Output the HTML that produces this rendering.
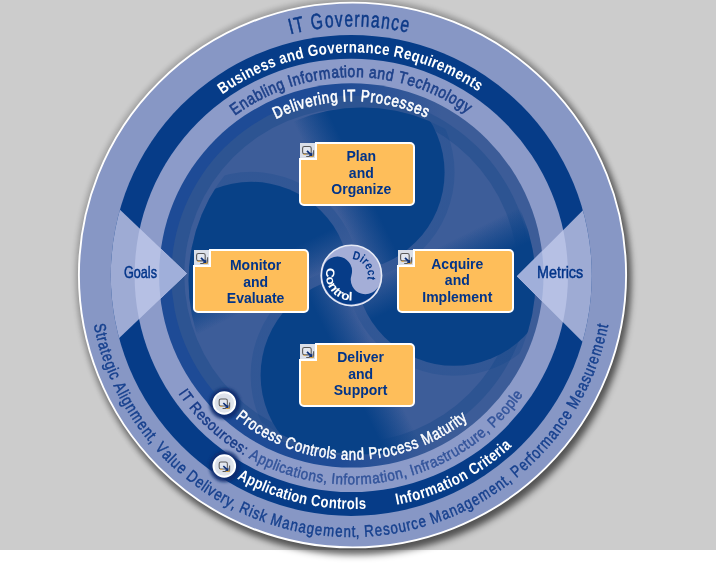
<!DOCTYPE html>
<html><head><meta charset="utf-8"><title>IT Governance</title>
<style>html,body{margin:0;padding:0;background:#fff}svg{display:block}text{font-family:"Liberation Sans",sans-serif}</style></head>
<body>
<svg width="716" height="569" viewBox="0 0 716 569" style="opacity:0.999">
<defs>
<filter id="sh" x="-10%" y="-10%" width="120%" height="120%"><feGaussianBlur stdDeviation="3.6"/></filter>
<filter id="sh3" x="-10%" y="-10%" width="120%" height="120%"><feGaussianBlur stdDeviation="2.5"/></filter>
<filter id="sh2" x="-50%" y="-50%" width="200%" height="200%"><feGaussianBlur stdDeviation="1.4"/></filter>
<clipPath id="cR3"><circle cx="351.3" cy="275.4" r="192.2"/></clipPath>
<clipPath id="cR1"><circle cx="351.3" cy="275.4" r="240.5"/></clipPath>
<clipPath id="cB"><circle cx="362.0" cy="281.0" r="173.5"/></clipPath>
<clipPath id="cAnn"><path clip-rule="evenodd" d="M159.10000000000002 275.4A192.2 192.2 0 1 1 543.5 275.4A192.2 192.2 0 1 1 159.10000000000002 275.4ZM187.8 275.4A163.5 163.5 0 1 0 514.8 275.4A163.5 163.5 0 1 0 187.8 275.4Z"/></clipPath>
<clipPath id="triL"><polygon points="186.8,273.5 76.80000000000001,168.45 76.80000000000001,378.55"/></clipPath>
<clipPath id="triR"><polygon points="517.0,276.3 627.0,166.3 627.0,386.3"/></clipPath>
<g id="ico">
<rect x="0" y="0" width="15" height="15" fill="#dadfe9"/>
<path d="M6.2 13.5H12.4Q13.6 13.5 13.6 12.3V7.2" fill="none" stroke="#5a5a5a" stroke-width="1.1"/>
<rect x="2.6" y="3.5" width="8.6" height="7.4" rx="1.8" fill="#e3e7ef" stroke="#5a5a5a" stroke-width="1.1"/>
<path d="M7 7.8l3.6 3.6" stroke="#0b2f7a" stroke-width="1.7"/>
<path d="M12.7 13.3l-4-.5 3.5-3.5z" fill="#0b2f7a"/>
<path d="M9.6 13.6h3.4v-2" fill="none" stroke="#e8a93a" stroke-width="0.9"/>
<path d="M3.4 11.4h2.6" stroke="#e8a93a" stroke-width="0.8"/>
</g>
<linearGradient id="bg" gradientUnits="userSpaceOnUse" x1="322.86" y1="182.47" x2="355.14" y2="166.53"><stop offset="0" stop-color="#084187" stop-opacity="0"/><stop offset="1" stop-color="#084187" stop-opacity="1"/></linearGradient>
<linearGradient id="bg2" gradientUnits="userSpaceOnUse" x1="322.86" y1="182.47" x2="355.14" y2="166.53"><stop offset="0" stop-color="#1e4b96" stop-opacity="0"/><stop offset="1" stop-color="#1e4b96" stop-opacity="1"/></linearGradient>
<linearGradient id="rg" gradientUnits="userSpaceOnUse" x1="201.3" y1="0" x2="501.3" y2="0"><stop offset="0" stop-color="#1e4b96"/><stop offset="0.45" stop-color="#1e4b96"/><stop offset="0.8" stop-color="#3c5c98"/></linearGradient>
</defs>
<rect x="0" y="0" width="716" height="550" fill="#cccccc"/>
<circle cx="353.0" cy="275.5" r="278.1" fill="#000" opacity="0.18" filter="url(#sh3)"/>
<circle cx="356.5" cy="280.5" r="274.6" fill="#000" opacity="0.5" filter="url(#sh)"/>
<ellipse cx="352.5" cy="275.0" rx="273.6" ry="272.40000000000003" fill="#8797c5" stroke="#fff" stroke-width="1.9"/>
<circle cx="351.3" cy="275.4" r="240.5" fill="#063c88"/>
<circle cx="351.3" cy="275.4" r="216.7" fill="#8c9bc9"/>
<circle cx="351.3" cy="275.4" r="192.2" fill="url(#rg)"/>
<circle cx="351.3" cy="275.4" r="180.0" fill="#2d5492"/>
<circle cx="351.3" cy="275.4" r="167.0" fill="#3d5d99"/>
<g clip-path="url(#cR3)"><g clip-path="url(#cB)">
<circle cx="346.0" cy="172.4" r="108.6" fill="url(#bg)" opacity="0.22" transform="rotate(0 352.6 273.8)"/>
<circle cx="346.0" cy="172.4" r="108.6" fill="url(#bg)" opacity="0.22" transform="rotate(-90 352.6 273.8)"/>
<circle cx="346.0" cy="172.4" r="108.6" fill="url(#bg)" opacity="0.22" transform="rotate(180 352.6 273.8)"/>
<circle cx="346.0" cy="172.4" r="108.6" fill="url(#bg)" opacity="0.22" transform="rotate(90 352.6 273.8)"/>
<circle cx="346.0" cy="172.4" r="98.6" fill="url(#bg)" transform="rotate(0 352.6 273.8)"/>
<circle cx="346.0" cy="172.4" r="98.6" fill="url(#bg)" transform="rotate(-90 352.6 273.8)"/>
<circle cx="346.0" cy="172.4" r="98.6" fill="url(#bg)" transform="rotate(180 352.6 273.8)"/>
<circle cx="346.0" cy="172.4" r="98.6" fill="url(#bg)" transform="rotate(90 352.6 273.8)"/>
</g></g>
<g clip-path="url(#triL)"><circle cx="351.3" cy="275.4" r="240.5" fill="#9eabd4"/><circle cx="351.3" cy="275.4" r="216.7" fill="#b6c0e4"/><circle cx="351.3" cy="275.4" r="192.2" fill="#a0afda"/></g>
<g clip-path="url(#triR)"><circle cx="351.3" cy="275.4" r="240.5" fill="#9eabd4"/><circle cx="351.3" cy="275.4" r="216.7" fill="#b6c0e4"/><circle cx="351.3" cy="275.4" r="192.2" fill="#a0afda"/></g>
<g font-size="22" font-weight="normal" fill="#0d3a88" text-anchor="middle" stroke="#0d3a88" stroke-width="0.55"><text transform="translate(292.68 33.70) rotate(-13.92) scale(0.705 1)">I</text><text transform="translate(300.49 31.90) rotate(-12.08) scale(0.705 1)">T</text><text transform="translate(317.76 28.84) rotate(-8.03) scale(0.705 1)">G</text><text transform="translate(329.71 27.45) rotate(-5.26) scale(0.705 1)">o</text><text transform="translate(339.21 26.76) rotate(-3.06) scale(0.705 1)">v</text><text transform="translate(348.73 26.43) rotate(-0.87) scale(0.705 1)">e</text><text transform="translate(356.75 26.44) rotate(0.98) scale(0.705 1)">r</text><text transform="translate(364.77 26.70) rotate(2.83) scale(0.705 1)">n</text><text transform="translate(374.77 27.40) rotate(5.14) scale(0.705 1)">a</text><text transform="translate(384.75 28.50) rotate(7.45) scale(0.705 1)">n</text><text transform="translate(394.17 29.92) rotate(9.65) scale(0.705 1)">c</text><text transform="translate(403.52 31.69) rotate(11.84) scale(0.705 1)">e</text></g>
<g font-size="16" font-weight="bold" fill="#fff" text-anchor="middle" ><text transform="translate(226.16 91.85) rotate(-34.60) scale(0.832 1)">B</text><text transform="translate(233.96 86.70) rotate(-32.19) scale(0.832 1)">u</text><text transform="translate(240.96 82.48) rotate(-30.09) scale(0.832 1)">s</text><text transform="translate(246.06 79.61) rotate(-28.58) scale(0.832 1)">i</text><text transform="translate(251.57 76.71) rotate(-26.98) scale(0.832 1)">n</text><text transform="translate(258.92 73.14) rotate(-24.87) scale(0.832 1)">e</text><text transform="translate(266.05 69.98) rotate(-22.86) scale(0.832 1)">s</text><text transform="translate(273.28 67.08) rotate(-20.86) scale(0.832 1)">s</text><text transform="translate(284.31 63.21) rotate(-17.85) scale(0.832 1)">a</text><text transform="translate(292.14 60.84) rotate(-15.74) scale(0.832 1)">n</text><text transform="translate(300.42 58.68) rotate(-13.54) scale(0.832 1)">d</text><text transform="translate(313.76 55.90) rotate(-10.03) scale(0.832 1)">G</text><text transform="translate(323.37 54.41) rotate(-7.52) scale(0.832 1)">o</text><text transform="translate(331.50 53.49) rotate(-5.42) scale(0.832 1)">v</text><text transform="translate(339.27 52.89) rotate(-3.41) scale(0.832 1)">e</text><text transform="translate(345.89 52.60) rotate(-1.70) scale(0.832 1)">r</text><text transform="translate(352.90 52.50) rotate(0.10) scale(0.832 1)">n</text><text transform="translate(361.07 52.67) rotate(2.21) scale(0.832 1)">a</text><text transform="translate(369.24 53.13) rotate(4.31) scale(0.832 1)">n</text><text transform="translate(377.38 53.90) rotate(6.42) scale(0.832 1)">c</text><text transform="translate(385.11 54.90) rotate(8.43) scale(0.832 1)">e</text><text transform="translate(397.76 57.15) rotate(11.74) scale(0.832 1)">R</text><text transform="translate(406.49 59.15) rotate(14.04) scale(0.832 1)">e</text><text transform="translate(414.38 61.28) rotate(16.15) scale(0.832 1)">q</text><text transform="translate(422.56 63.82) rotate(18.35) scale(0.832 1)">u</text><text transform="translate(428.44 65.86) rotate(19.96) scale(0.832 1)">i</text><text transform="translate(432.82 67.50) rotate(21.16) scale(0.832 1)">r</text><text transform="translate(438.96 69.99) rotate(22.87) scale(0.832 1)">e</text><text transform="translate(448.20 74.13) rotate(25.47) scale(0.832 1)">m</text><text transform="translate(457.24 78.69) rotate(28.08) scale(0.832 1)">e</text><text transform="translate(464.38 82.68) rotate(30.19) scale(0.832 1)">n</text><text transform="translate(470.05 86.09) rotate(31.89) scale(0.832 1)">t</text><text transform="translate(475.29 89.45) rotate(33.50) scale(0.832 1)">s</text></g>
<g font-size="16.5" font-weight="normal" fill="#1e418a" text-anchor="middle" stroke="#1e418a" stroke-width="0.65"><text transform="translate(238.51 113.10) rotate(-35.15) scale(0.839 1)">E</text><text transform="translate(246.15 107.98) rotate(-32.49) scale(0.839 1)">n</text><text transform="translate(253.30 103.64) rotate(-30.07) scale(0.839 1)">a</text><text transform="translate(260.63 99.61) rotate(-27.65) scale(0.839 1)">b</text><text transform="translate(265.85 96.97) rotate(-25.95) scale(0.839 1)">l</text><text transform="translate(268.87 95.53) rotate(-24.99) scale(0.839 1)">i</text><text transform="translate(274.21 93.14) rotate(-23.29) scale(0.839 1)">n</text><text transform="translate(281.96 89.99) rotate(-20.87) scale(0.839 1)">g</text><text transform="translate(291.82 86.53) rotate(-17.85) scale(0.839 1)">I</text><text transform="translate(297.82 84.70) rotate(-16.03) scale(0.839 1)">n</text><text transform="translate(303.87 83.06) rotate(-14.22) scale(0.839 1)">f</text><text transform="translate(309.97 81.62) rotate(-12.40) scale(0.839 1)">o</text><text transform="translate(316.53 80.30) rotate(-10.47) scale(0.839 1)">r</text><text transform="translate(325.18 78.89) rotate(-7.93) scale(0.839 1)">m</text><text transform="translate(335.56 77.73) rotate(-4.91) scale(0.839 1)">a</text><text transform="translate(341.82 77.29) rotate(-3.09) scale(0.839 1)">t</text><text transform="translate(345.57 77.12) rotate(-2.00) scale(0.839 1)">i</text><text transform="translate(351.43 77.00) rotate(-0.31) scale(0.839 1)">o</text><text transform="translate(359.79 77.13) rotate(2.11) scale(0.839 1)">n</text><text transform="translate(372.30 77.99) rotate(5.74) scale(0.839 1)">a</text><text transform="translate(380.60 79.00) rotate(8.16) scale(0.839 1)">n</text><text transform="translate(388.86 80.37) rotate(10.58) scale(0.839 1)">d</text><text transform="translate(401.50 83.16) rotate(14.33) scale(0.839 1)">T</text><text transform="translate(409.95 85.52) rotate(16.87) scale(0.839 1)">e</text><text transform="translate(417.51 87.98) rotate(19.17) scale(0.839 1)">c</text><text transform="translate(424.95 90.73) rotate(21.46) scale(0.839 1)">h</text><text transform="translate(432.67 93.96) rotate(23.89) scale(0.839 1)">n</text><text transform="translate(440.25 97.50) rotate(26.31) scale(0.839 1)">o</text><text transform="translate(445.45 100.18) rotate(28.00) scale(0.839 1)">l</text><text transform="translate(450.58 103.00) rotate(29.69) scale(0.839 1)">o</text><text transform="translate(457.76 107.30) rotate(32.11) scale(0.839 1)">g</text><text transform="translate(464.40 111.65) rotate(34.41) scale(0.839 1)">y</text></g>
<g font-size="16.5" font-weight="normal" fill="#fff" text-anchor="middle" stroke="#fff" stroke-width="0.6"><text transform="translate(280.06 117.02) rotate(-24.63) scale(0.810 1)">D</text><text transform="translate(288.79 113.30) rotate(-21.50) scale(0.810 1)">e</text><text transform="translate(294.21 111.27) rotate(-19.60) scale(0.810 1)">l</text><text transform="translate(297.33 110.19) rotate(-18.51) scale(0.810 1)">i</text><text transform="translate(302.44 108.57) rotate(-16.74) scale(0.810 1)">v</text><text transform="translate(310.00 106.48) rotate(-14.16) scale(0.810 1)">e</text><text transform="translate(316.43 104.98) rotate(-11.98) scale(0.810 1)">r</text><text transform="translate(320.47 104.18) rotate(-10.62) scale(0.810 1)">i</text><text transform="translate(326.17 103.21) rotate(-8.71) scale(0.810 1)">n</text><text transform="translate(334.36 102.15) rotate(-5.99) scale(0.810 1)">g</text><text transform="translate(344.65 101.38) rotate(-2.59) scale(0.810 1)">I</text><text transform="translate(351.25 101.20) rotate(-0.41) scale(0.810 1)">T</text><text transform="translate(364.85 101.64) rotate(4.07) scale(0.810 1)">P</text><text transform="translate(372.24 102.33) rotate(6.52) scale(0.810 1)">r</text><text transform="translate(378.79 103.20) rotate(8.70) scale(0.810 1)">o</text><text transform="translate(386.51 104.56) rotate(11.29) scale(0.810 1)">c</text><text transform="translate(394.17 106.27) rotate(13.87) scale(0.810 1)">e</text><text transform="translate(401.74 108.32) rotate(16.46) scale(0.810 1)">s</text><text transform="translate(408.81 110.58) rotate(18.90) scale(0.810 1)">s</text><text transform="translate(416.17 113.28) rotate(21.49) scale(0.810 1)">e</text><text transform="translate(423.40 116.32) rotate(24.08) scale(0.810 1)">s</text></g>
<g font-size="16.5" font-weight="normal" fill="#16408e" text-anchor="middle" stroke="#16408e" stroke-width="0.45"><text transform="translate(94.63 329.03) rotate(78.10) scale(0.805 1)">S</text><text transform="translate(96.20 335.99) rotate(76.54) scale(0.805 1)">t</text><text transform="translate(97.31 340.47) rotate(75.53) scale(0.805 1)">r</text><text transform="translate(99.07 346.94) rotate(74.06) scale(0.805 1)">a</text><text transform="translate(100.87 352.98) rotate(72.69) scale(0.805 1)">t</text><text transform="translate(102.82 358.96) rotate(71.31) scale(0.805 1)">e</text><text transform="translate(105.64 366.87) rotate(69.47) scale(0.805 1)">g</text><text transform="translate(107.76 372.35) rotate(68.19) scale(0.805 1)">i</text><text transform="translate(109.84 377.39) rotate(66.99) scale(0.805 1)">c</text><text transform="translate(115.21 389.23) rotate(64.15) scale(0.805 1)">A</text><text transform="translate(118.22 395.24) rotate(62.68) scale(0.805 1)">l</text><text transform="translate(119.78 398.21) rotate(61.95) scale(0.805 1)">i</text><text transform="translate(122.60 403.36) rotate(60.66) scale(0.805 1)">g</text><text transform="translate(126.83 410.61) rotate(58.83) scale(0.805 1)">n</text><text transform="translate(132.44 419.48) rotate(56.53) scale(0.805 1)">m</text><text transform="translate(138.39 428.11) rotate(54.24) scale(0.805 1)">e</text><text transform="translate(143.41 434.84) rotate(52.40) scale(0.805 1)">n</text><text transform="translate(147.31 439.78) rotate(51.03) scale(0.805 1)">t</text><text transform="translate(149.97 443.02) rotate(50.11) scale(0.805 1)">,</text><text transform="translate(157.42 451.56) rotate(47.63) scale(0.805 1)">V</text><text transform="translate(163.77 458.27) rotate(45.61) scale(0.805 1)">a</text><text transform="translate(167.92 462.42) rotate(44.33) scale(0.805 1)">l</text><text transform="translate(172.17 466.48) rotate(43.04) scale(0.805 1)">u</text><text transform="translate(178.40 472.11) rotate(41.21) scale(0.805 1)">e</text><text transform="translate(189.05 480.95) rotate(38.18) scale(0.805 1)">D</text><text transform="translate(196.75 486.78) rotate(36.07) scale(0.805 1)">e</text><text transform="translate(201.53 490.18) rotate(34.78) scale(0.805 1)">l</text><text transform="translate(204.30 492.08) rotate(34.05) scale(0.805 1)">i</text><text transform="translate(208.85 495.09) rotate(32.86) scale(0.805 1)">v</text><text transform="translate(215.61 499.31) rotate(31.11) scale(0.805 1)">e</text><text transform="translate(221.40 502.70) rotate(29.65) scale(0.805 1)">r</text><text transform="translate(226.91 505.75) rotate(28.27) scale(0.805 1)">y</text><text transform="translate(232.11 508.47) rotate(26.99) scale(0.805 1)">,</text><text transform="translate(242.69 513.56) rotate(24.42) scale(0.805 1)">R</text><text transform="translate(249.22 516.42) rotate(22.86) scale(0.805 1)">i</text><text transform="translate(254.27 518.49) rotate(21.67) scale(0.805 1)">s</text><text transform="translate(261.32 521.17) rotate(20.02) scale(0.805 1)">k</text><text transform="translate(274.85 525.69) rotate(16.90) scale(0.805 1)">M</text><text transform="translate(284.94 528.53) rotate(14.60) scale(0.805 1)">a</text><text transform="translate(293.10 530.52) rotate(12.77) scale(0.805 1)">n</text><text transform="translate(301.32 532.25) rotate(10.93) scale(0.805 1)">a</text><text transform="translate(309.58 533.71) rotate(9.10) scale(0.805 1)">g</text><text transform="translate(317.90 534.90) rotate(7.26) scale(0.805 1)">e</text><text transform="translate(328.32 536.02) rotate(4.97) scale(0.805 1)">m</text><text transform="translate(338.79 536.72) rotate(2.67) scale(0.805 1)">e</text><text transform="translate(347.18 536.97) rotate(0.84) scale(0.805 1)">n</text><text transform="translate(353.48 536.99) rotate(-0.54) scale(0.805 1)">t</text><text transform="translate(357.67 536.92) rotate(-1.46) scale(0.805 1)">,</text><text transform="translate(369.40 536.35) rotate(-4.03) scale(0.805 1)">R</text><text transform="translate(379.01 535.50) rotate(-6.14) scale(0.805 1)">e</text><text transform="translate(386.93 534.53) rotate(-7.88) scale(0.805 1)">s</text><text transform="translate(394.81 533.31) rotate(-9.63) scale(0.805 1)">o</text><text transform="translate(403.06 531.78) rotate(-11.46) scale(0.805 1)">u</text><text transform="translate(409.62 530.36) rotate(-12.93) scale(0.805 1)">r</text><text transform="translate(415.74 528.88) rotate(-14.30) scale(0.805 1)">c</text><text transform="translate(423.43 526.79) rotate(-16.05) scale(0.805 1)">e</text><text transform="translate(437.42 522.34) rotate(-19.26) scale(0.805 1)">M</text><text transform="translate(447.25 518.68) rotate(-21.55) scale(0.805 1)">a</text><text transform="translate(455.01 515.47) rotate(-23.39) scale(0.805 1)">n</text><text transform="translate(462.66 512.01) rotate(-25.23) scale(0.805 1)">a</text><text transform="translate(470.20 508.31) rotate(-27.06) scale(0.805 1)">g</text><text transform="translate(477.61 504.37) rotate(-28.90) scale(0.805 1)">e</text><text transform="translate(486.69 499.12) rotate(-31.19) scale(0.805 1)">m</text><text transform="translate(495.55 493.51) rotate(-33.49) scale(0.805 1)">e</text><text transform="translate(502.48 488.77) rotate(-35.32) scale(0.805 1)">n</text><text transform="translate(507.57 485.07) rotate(-36.70) scale(0.805 1)">t</text><text transform="translate(510.92 482.53) rotate(-37.62) scale(0.805 1)">,</text><text transform="translate(519.74 475.43) rotate(-40.09) scale(0.805 1)">P</text><text transform="translate(526.70 469.36) rotate(-42.11) scale(0.805 1)">e</text><text transform="translate(531.62 464.79) rotate(-43.58) scale(0.805 1)">r</text><text transform="translate(534.93 461.58) rotate(-44.59) scale(0.805 1)">f</text><text transform="translate(539.36 457.11) rotate(-45.97) scale(0.805 1)">o</text><text transform="translate(543.96 452.23) rotate(-47.43) scale(0.805 1)">r</text><text transform="translate(549.81 445.64) rotate(-49.36) scale(0.805 1)">m</text><text transform="translate(556.48 437.55) rotate(-51.65) scale(0.805 1)">a</text><text transform="translate(561.58 430.88) rotate(-53.49) scale(0.805 1)">n</text><text transform="translate(566.23 424.40) rotate(-55.23) scale(0.805 1)">c</text><text transform="translate(570.67 417.78) rotate(-56.98) scale(0.805 1)">e</text><text transform="translate(578.33 405.26) rotate(-60.19) scale(0.805 1)">M</text><text transform="translate(583.36 396.05) rotate(-62.48) scale(0.805 1)">e</text><text transform="translate(587.12 388.55) rotate(-64.32) scale(0.805 1)">a</text><text transform="translate(590.46 381.31) rotate(-66.06) scale(0.805 1)">s</text><text transform="translate(593.59 373.97) rotate(-67.80) scale(0.805 1)">u</text><text transform="translate(596.04 367.73) rotate(-69.27) scale(0.805 1)">r</text><text transform="translate(598.34 361.42) rotate(-70.74) scale(0.805 1)">e</text><text transform="translate(601.60 351.45) rotate(-73.03) scale(0.805 1)">m</text><text transform="translate(604.46 341.36) rotate(-75.33) scale(0.805 1)">e</text><text transform="translate(606.45 333.20) rotate(-77.16) scale(0.805 1)">n</text><text transform="translate(607.78 327.05) rotate(-78.54) scale(0.805 1)">t</text></g>
<g font-size="15.2" font-weight="normal" fill="#33549b" text-anchor="middle" stroke="#33549b" stroke-width="0.45"><text fill="#173b88" stroke="#173b88" transform="translate(179.30 395.04) rotate(55.04) scale(0.890 1)">I</text><text fill="#173b88" stroke="#173b88" transform="translate(183.13 400.34) rotate(53.25) scale(0.890 1)">T</text><text fill="#173b88" stroke="#173b88" transform="translate(191.80 411.18) rotate(49.46) scale(0.890 1)">R</text><text fill="#173b88" stroke="#173b88" transform="translate(198.07 418.19) rotate(46.88) scale(0.890 1)">e</text><text fill="#173b88" stroke="#173b88" transform="translate(203.48 423.76) rotate(44.76) scale(0.890 1)">s</text><text fill="#173b88" stroke="#173b88" transform="translate(209.10 429.12) rotate(42.64) scale(0.890 1)">o</text><text fill="#173b88" stroke="#173b88" transform="translate(215.22 434.55) rotate(40.40) scale(0.890 1)">u</text><text fill="#173b88" stroke="#173b88" transform="translate(220.27 438.71) rotate(38.61) scale(0.890 1)">r</text><text fill="#173b88" stroke="#173b88" transform="translate(225.11 442.46) rotate(36.93) scale(0.890 1)">c</text><text fill="#173b88" stroke="#173b88" transform="translate(231.41 447.01) rotate(34.81) scale(0.890 1)">e</text><text fill="#173b88" stroke="#173b88" transform="translate(237.86 451.33) rotate(32.69) scale(0.890 1)">s</text><text fill="#173b88" stroke="#173b88" transform="translate(242.72 454.35) rotate(31.12) scale(0.890 1)">:</text><text transform="translate(252.31 459.80) rotate(28.10) scale(0.890 1)">A</text><text transform="translate(260.34 463.87) rotate(25.64) scale(0.890 1)">p</text><text transform="translate(267.78 467.26) rotate(23.41) scale(0.890 1)">p</text><text transform="translate(273.06 469.46) rotate(21.84) scale(0.890 1)">l</text><text transform="translate(276.11 470.66) rotate(20.95) scale(0.890 1)">i</text><text transform="translate(281.09 472.49) rotate(19.49) scale(0.890 1)">c</text><text transform="translate(288.46 474.95) rotate(17.37) scale(0.890 1)">a</text><text transform="translate(294.34 476.69) rotate(15.69) scale(0.890 1)">t</text><text transform="translate(297.89 477.66) rotate(14.69) scale(0.890 1)">i</text><text transform="translate(303.44 479.03) rotate(13.12) scale(0.890 1)">o</text><text transform="translate(311.44 480.73) rotate(10.88) scale(0.890 1)">n</text><text transform="translate(319.10 482.06) rotate(8.76) scale(0.890 1)">s</text><text transform="translate(324.76 482.85) rotate(7.19) scale(0.890 1)">,</text><text transform="translate(332.89 483.72) rotate(4.96) scale(0.890 1)">I</text><text transform="translate(339.01 484.16) rotate(3.28) scale(0.890 1)">n</text><text transform="translate(345.13 484.42) rotate(1.60) scale(0.890 1)">f</text><text transform="translate(351.27 484.50) rotate(-0.07) scale(0.890 1)">o</text><text transform="translate(357.80 484.39) rotate(-1.86) scale(0.890 1)">r</text><text transform="translate(366.37 483.94) rotate(-4.21) scale(0.890 1)">m</text><text transform="translate(376.53 482.94) rotate(-7.00) scale(0.890 1)">a</text><text transform="translate(382.61 482.10) rotate(-8.68) scale(0.890 1)">t</text><text transform="translate(386.24 481.51) rotate(-9.68) scale(0.890 1)">i</text><text transform="translate(391.87 480.47) rotate(-11.25) scale(0.890 1)">o</text><text transform="translate(399.86 478.72) rotate(-13.49) scale(0.890 1)">n</text><text transform="translate(405.80 477.21) rotate(-15.16) scale(0.890 1)">,</text><text transform="translate(413.65 474.91) rotate(-17.40) scale(0.890 1)">I</text><text transform="translate(419.47 472.99) rotate(-19.08) scale(0.890 1)">n</text><text transform="translate(425.24 470.91) rotate(-20.75) scale(0.890 1)">f</text><text transform="translate(429.42 469.27) rotate(-21.98) scale(0.890 1)">r</text><text transform="translate(435.45 466.73) rotate(-23.77) scale(0.890 1)">a</text><text transform="translate(442.49 463.46) rotate(-25.90) scale(0.890 1)">s</text><text transform="translate(447.61 460.90) rotate(-27.46) scale(0.890 1)">t</text><text transform="translate(451.57 458.78) rotate(-28.69) scale(0.890 1)">r</text><text transform="translate(457.26 455.55) rotate(-30.48) scale(0.890 1)">u</text><text transform="translate(463.88 451.49) rotate(-32.60) scale(0.890 1)">c</text><text transform="translate(468.65 448.34) rotate(-34.17) scale(0.890 1)">t</text><text transform="translate(473.68 444.83) rotate(-35.84) scale(0.890 1)">u</text><text transform="translate(478.92 440.91) rotate(-37.63) scale(0.890 1)">r</text><text transform="translate(484.03 436.84) rotate(-39.42) scale(0.890 1)">e</text><text transform="translate(488.71 432.88) rotate(-41.10) scale(0.890 1)">,</text><text transform="translate(496.83 425.41) rotate(-44.12) scale(0.890 1)">P</text><text transform="translate(503.16 419.01) rotate(-46.58) scale(0.890 1)">e</text><text transform="translate(508.66 412.96) rotate(-48.81) scale(0.890 1)">o</text><text transform="translate(513.93 406.70) rotate(-51.05) scale(0.890 1)">p</text><text transform="translate(517.47 402.20) rotate(-52.62) scale(0.890 1)">l</text><text transform="translate(520.88 397.60) rotate(-54.18) scale(0.890 1)">e</text></g>
<g font-size="16.5" font-weight="normal" fill="#fff" text-anchor="middle" stroke="#fff" stroke-width="0.5"><text transform="translate(238.75 420.64) rotate(37.99) scale(0.796 1)">P</text><text transform="translate(244.59 425.02) rotate(35.73) scale(0.796 1)">r</text><text transform="translate(249.92 428.71) rotate(33.72) scale(0.796 1)">o</text><text transform="translate(256.42 432.86) rotate(31.33) scale(0.796 1)">c</text><text transform="translate(263.08 436.73) rotate(28.94) scale(0.796 1)">e</text><text transform="translate(269.90 440.31) rotate(26.55) scale(0.796 1)">s</text><text transform="translate(276.49 443.44) rotate(24.29) scale(0.796 1)">s</text><text transform="translate(288.49 448.36) rotate(20.27) scale(0.796 1)">C</text><text transform="translate(297.32 451.37) rotate(17.37) scale(0.796 1)">o</text><text transform="translate(305.11 453.62) rotate(14.86) scale(0.796 1)">n</text><text transform="translate(311.02 455.08) rotate(12.97) scale(0.796 1)">t</text><text transform="translate(315.37 456.03) rotate(11.59) scale(0.796 1)">r</text><text transform="translate(321.75 457.22) rotate(9.58) scale(0.796 1)">o</text><text transform="translate(327.37 458.08) rotate(7.82) scale(0.796 1)">l</text><text transform="translate(332.59 458.72) rotate(6.18) scale(0.796 1)">s</text><text transform="translate(344.32 459.62) rotate(2.54) scale(0.796 1)">a</text><text transform="translate(352.43 459.80) rotate(0.02) scale(0.796 1)">n</text><text transform="translate(360.55 459.62) rotate(-2.50) scale(0.796 1)">d</text><text transform="translate(373.48 458.61) rotate(-6.52) scale(0.796 1)">P</text><text transform="translate(380.71 457.63) rotate(-8.78) scale(0.796 1)">r</text><text transform="translate(387.11 456.53) rotate(-10.79) scale(0.796 1)">o</text><text transform="translate(394.64 454.93) rotate(-13.18) scale(0.796 1)">c</text><text transform="translate(402.11 453.02) rotate(-15.57) scale(0.796 1)">e</text><text transform="translate(409.49 450.79) rotate(-17.96) scale(0.796 1)">s</text><text transform="translate(416.38 448.41) rotate(-20.22) scale(0.796 1)">s</text><text transform="translate(429.12 443.17) rotate(-24.50) scale(0.796 1)">M</text><text transform="translate(438.22 438.71) rotate(-27.64) scale(0.796 1)">a</text><text transform="translate(443.57 435.80) rotate(-29.52) scale(0.796 1)">t</text><text transform="translate(448.81 432.72) rotate(-31.41) scale(0.796 1)">u</text><text transform="translate(454.29 429.24) rotate(-33.42) scale(0.796 1)">r</text><text transform="translate(457.65 426.97) rotate(-34.68) scale(0.796 1)">i</text><text transform="translate(460.62 424.87) rotate(-35.81) scale(0.796 1)">t</text><text transform="translate(465.18 421.48) rotate(-37.57) scale(0.796 1)">y</text></g>
<g font-size="16" font-weight="bold" fill="#fff" text-anchor="middle" ><text transform="translate(240.90 480.67) rotate(28.48) scale(0.816 1)">A</text><text transform="translate(249.04 484.88) rotate(26.24) scale(0.816 1)">p</text><text transform="translate(256.64 488.46) rotate(24.18) scale(0.816 1)">p</text><text transform="translate(262.24 490.89) rotate(22.69) scale(0.816 1)">l</text><text transform="translate(265.78 492.34) rotate(21.75) scale(0.816 1)">i</text><text transform="translate(271.13 494.39) rotate(20.35) scale(0.816 1)">c</text><text transform="translate(278.34 496.94) rotate(18.48) scale(0.816 1)">a</text><text transform="translate(284.16 498.80) rotate(16.98) scale(0.816 1)">t</text><text transform="translate(288.18 499.99) rotate(15.95) scale(0.816 1)">i</text><text transform="translate(294.08 501.59) rotate(14.46) scale(0.816 1)">o</text><text transform="translate(302.25 503.54) rotate(12.40) scale(0.816 1)">n</text><text transform="translate(315.00 505.98) rotate(9.22) scale(0.816 1)">C</text><text transform="translate(324.07 507.27) rotate(6.98) scale(0.816 1)">o</text><text transform="translate(332.42 508.14) rotate(4.92) scale(0.816 1)">n</text><text transform="translate(338.89 508.60) rotate(3.33) scale(0.816 1)">t</text><text transform="translate(343.85 508.84) rotate(2.12) scale(0.816 1)">r</text><text transform="translate(350.72 508.99) rotate(0.44) scale(0.816 1)">o</text><text transform="translate(356.83 508.96) rotate(-1.06) scale(0.816 1)">l</text><text transform="translate(362.56 508.78) rotate(-2.46) scale(0.816 1)">s</text></g>
<g font-size="16" font-weight="bold" fill="#fff" text-anchor="middle" ><text transform="translate(398.28 504.48) rotate(-11.28) scale(0.842 1)">I</text><text transform="translate(404.44 503.16) rotate(-12.82) scale(0.842 1)">n</text><text transform="translate(410.94 501.59) rotate(-14.46) scale(0.842 1)">f</text><text transform="translate(417.39 499.82) rotate(-16.10) scale(0.842 1)">o</text><text transform="translate(424.17 497.75) rotate(-17.83) scale(0.842 1)">r</text><text transform="translate(432.73 494.81) rotate(-20.05) scale(0.842 1)">m</text><text transform="translate(442.28 491.09) rotate(-22.56) scale(0.842 1)">a</text><text transform="translate(448.06 488.60) rotate(-24.10) scale(0.842 1)">t</text><text transform="translate(452.00 486.79) rotate(-25.16) scale(0.842 1)">i</text><text transform="translate(457.66 484.04) rotate(-26.71) scale(0.842 1)">o</text><text transform="translate(465.32 480.01) rotate(-28.83) scale(0.842 1)">n</text><text transform="translate(476.85 473.22) rotate(-32.10) scale(0.842 1)">C</text><text transform="translate(483.45 468.93) rotate(-34.03) scale(0.842 1)">r</text><text transform="translate(487.34 466.24) rotate(-35.19) scale(0.842 1)">i</text><text transform="translate(490.86 463.71) rotate(-36.25) scale(0.842 1)">t</text><text transform="translate(495.89 459.92) rotate(-37.79) scale(0.842 1)">e</text><text transform="translate(501.12 455.74) rotate(-39.43) scale(0.842 1)">r</text><text transform="translate(504.74 452.70) rotate(-40.59) scale(0.842 1)">i</text><text transform="translate(509.18 448.80) rotate(-42.03) scale(0.842 1)">a</text></g>
<text x="124" y="277.6" font-size="16.2" fill="#023489" stroke="#023489" stroke-width="0.45" textLength="33" lengthAdjust="spacingAndGlyphs">Goals</text>
<text x="537" y="277.6" font-size="16.2" fill="#023489" stroke="#023489" stroke-width="0.45" textLength="46.2" lengthAdjust="spacingAndGlyphs">Metrics</text>
<path d="M316 143H410A4 4 0 0 1 414 147V201A4 4 0 0 1 410 205H304A4 4 0 0 1 300 201V159H316Z" fill="#febe5a" stroke="#fff" stroke-width="2" stroke-linejoin="miter"/>
<use href="#ico" x="300" y="143"/>
<g font-size="14" font-weight="bold" fill="#023489" text-anchor="middle"><text x="361.3" y="161.2">Plan</text><text x="361.3" y="177.5">and</text><text x="361.3" y="193.8">Organize</text></g>
<path d="M210 250H304A4 4 0 0 1 308 254V308A4 4 0 0 1 304 312H198A4 4 0 0 1 194 308V266H210Z" fill="#febe5a" stroke="#fff" stroke-width="2" stroke-linejoin="miter"/>
<use href="#ico" x="194" y="250"/>
<g font-size="14" font-weight="bold" fill="#023489" text-anchor="middle"><text x="255.6" y="270.4">Monitor</text><text x="255.6" y="286.7">and</text><text x="255.6" y="303.0">Evaluate</text></g>
<path d="M414 250H509A4 4 0 0 1 513 254V308A4 4 0 0 1 509 312H402A4 4 0 0 1 398 308V266H414Z" fill="#febe5a" stroke="#fff" stroke-width="2" stroke-linejoin="miter"/>
<use href="#ico" x="398" y="250"/>
<g font-size="14" font-weight="bold" fill="#023489" text-anchor="middle"><text x="457.3" y="269.0">Acquire</text><text x="457.3" y="285.3">and</text><text x="457.3" y="301.6">Implement</text></g>
<path d="M316 344H410A4 4 0 0 1 414 348V402A4 4 0 0 1 410 406H304A4 4 0 0 1 300 402V360H316Z" fill="#febe5a" stroke="#fff" stroke-width="2" stroke-linejoin="miter"/>
<use href="#ico" x="300" y="344"/>
<g font-size="14" font-weight="bold" fill="#023489" text-anchor="middle"><text x="360.6" y="362.2">Deliver</text><text x="360.6" y="378.5">and</text><text x="360.6" y="394.8">Support</text></g>
<g transform="translate(351.4 275.4)"><circle r="30.200000000000003" fill="#a4aed7" stroke="#e6eaf6" stroke-width="1.6"/><path transform="rotate(17)" d="M-29.1 0A14.55 14.55 0 0 1 0 0A14.55 14.55 0 0 0 29.1 0A29.1 29.1 0 0 1 -29.1 0Z" fill="#063c88"/></g>
<g font-size="12" font-weight="bold" fill="#053789" text-anchor="middle" ><text transform="translate(355.62 259.65) rotate(14.99) scale(0.853 1)">D</text><text transform="translate(360.27 261.73) rotate(32.99) scale(0.853 1)">i</text><text transform="translate(362.92 263.87) rotate(44.99) scale(0.853 1)">r</text><text transform="translate(365.79 267.75) rotate(61.99) scale(0.853 1)">e</text><text transform="translate(367.54 273.13) rotate(82.01) scale(0.853 1)">c</text><text transform="translate(367.54 277.67) rotate(98.01) scale(0.853 1)">t</text></g>
<g font-size="12" font-weight="bold" fill="#fff" text-anchor="middle" ><text transform="translate(326.28 272.39) rotate(96.83) scale(1.139 1)">C</text><text transform="translate(326.83 281.43) rotate(76.20) scale(1.139 1)">o</text><text transform="translate(330.11 289.07) rotate(57.30) scale(1.139 1)">n</text><text transform="translate(334.24 294.00) rotate(42.69) scale(1.139 1)">t</text><text transform="translate(338.17 296.97) rotate(31.52) scale(1.139 1)">r</text><text transform="translate(344.41 299.71) rotate(16.05) scale(1.139 1)">o</text><text transform="translate(350.39 300.68) rotate(2.30) scale(1.139 1)">l</text></g>
<circle cx="224.8" cy="403.5" r="15.5" fill="#0b2c6e" opacity="0.9" filter="url(#sh2)"/><circle cx="224.3" cy="403.0" r="10.8" fill="#dfe3ec" stroke="#fff" stroke-width="2"/><use href="#ico" x="216.3" y="395.2" transform="translate(224.3 403.0) scale(0.95) translate(-224.3 -403.0)"/>
<circle cx="224.8" cy="466.5" r="15.5" fill="#0b2c6e" opacity="0.9" filter="url(#sh2)"/><circle cx="224.3" cy="466.0" r="10.8" fill="#dfe3ec" stroke="#fff" stroke-width="2"/><use href="#ico" x="216.3" y="458.2" transform="translate(224.3 466.0) scale(0.95) translate(-224.3 -466.0)"/>
</svg>
</body></html>
